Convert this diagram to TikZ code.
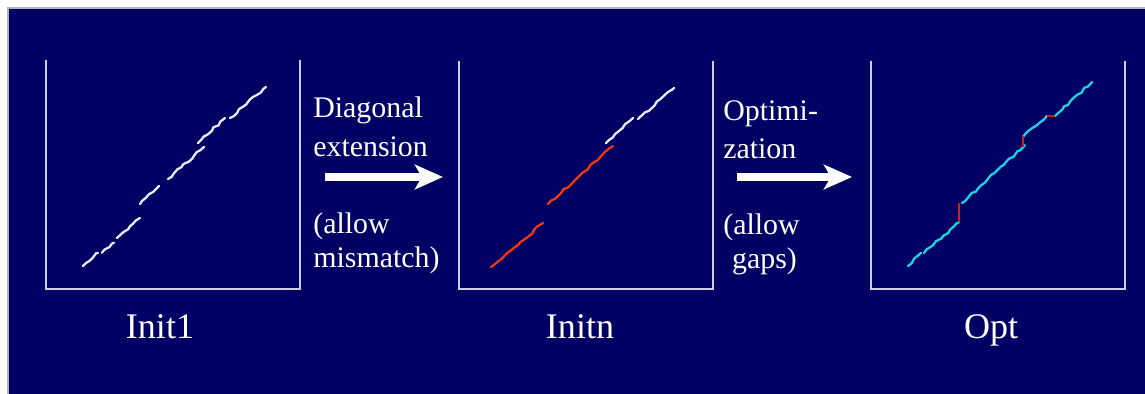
\documentclass[tikz,border=0pt]{standalone}
\usepackage{fontspec}
\setmainfont{Liberation Serif}
\usetikzlibrary{arrows.meta, positioning, decorations.pathmorphing}
\definecolor{cNavy}{RGB}{0,0,100}
\definecolor{cFrame}{RGB}{205,205,230}
\definecolor{cHit}{RGB}{235,235,245}
\definecolor{cRed}{RGB}{245,55,10}
\definecolor{cCyan}{RGB}{30,210,225}
\definecolor{cGap}{RGB}{210,30,10}
\tikzset{
	panel/.style   ={rectangle, minimum width=5.08cm, minimum height=4.56cm, inner sep=0pt},
	pframe/.style  ={draw=cFrame, line width=1.1pt},
	lbl/.style     ={text=white, anchor=base, inner sep=0pt, font=\fontsize{20.5}{24}\selectfont},
	stepnote/.style={text=white, anchor=north west, inner sep=0pt, align=left},
	bigarrow/.style={-{Stealth[length=16pt, width=14pt, inset=4pt]}, line width=4pt, draw=white},
	% dot-plot traces
	hit/.style     ={line width=1.3pt, line cap=round, decorate, decoration={random steps, segment length=2.5pt, amplitude=0.6pt}},
	gapmark/.style ={line width=1.3pt, draw=cGap},
}

\begin{document}
\begin{tikzpicture}[x=0.02cm, y=-0.02cm]
	\pgfmathsetseed{7}
	\useasboundingbox (0,0) rectangle (1145,394);
	\fill[cNavy, draw=gray!60, line width=0.6pt] (8,8) rectangle (1146,395);
	% the three dot plots
	\node[panel] (init1) at (173,174.5) {};
	\node[panel] (initn) at (586,175) {};
	\node[panel] (opt)   at (998,175) {};
	\foreach \p in {init1, initn, opt}
		\draw[pframe] (\p.north west) |- (\p.south east) -- (\p.north east);
	\node[lbl] (l1) at (160,339) {Init1};
	\node[lbl] (ln) at (580,339) {Initn};
	\node[lbl] (lo) at (991,339) {Opt};
	% seeds in Init1
	\foreach \a/\b in {{83,266}/{98,253}, {102,252.7}/{114,242.7}, {117,238}/{140,218}, {140,204}/{159,186},
			{168,179}/{204,147}, {198,143}/{225,118}, {230,118}/{266,87}}
		\draw[hit, cHit] (\a) -- (\b);
	% extended diagonals in Initn
	\foreach \a/\b in {{491,267}/{543,223}, {548,204}/{613,146}}
		\draw[hit, cRed] (\a) -- (\b);
	\foreach \a/\b in {{606,143}/{633,118}, {638,119}/{674,88}}
		\draw[hit, cHit] (\a) -- (\b);
	% optimal path in Opt
	\foreach \a/\b in {{908,266}/{921,253}, {924,253}/{959,222}, {962,203}/{1025,145},
			{1023,137}/{1047,116}, {1055,116}/{1092,82}}
		\draw[hit, cCyan] (\a) -- (\b);
	\draw[gapmark] (959,222) -- (959,203);
	\draw[gapmark] (1023,147) -- (1023,136);
	\draw[gapmark] (1047,116) -- (1055,116);
	% steps between plots
	\coordinate (a1s) at (325,177);
	\coordinate (a1e) at (443,177);
	\coordinate (a2s) at (737,177);
	\coordinate (a2e) at (852,177);
	\draw[bigarrow] (a1s) -- (a1e);
	\draw[bigarrow] (a2s) -- (a2e);
	\node[stepnote, font=\fontsize{17}{22.5}\selectfont] (ext)  at (313,96)  {Diagonal\\extension};
	\node[stepnote, font=\fontsize{17}{19.5}\selectfont] (mis)  at (313,212) {(allow\\mismatch)};
	\node[stepnote, font=\fontsize{17}{22}\selectfont]   (optz) at (723,100) {Optimi-\\zation};
	\node[stepnote, font=\fontsize{17}{19.5}\selectfont] (gaps) at (723,213) {(allow\\\hspace{5pt}gaps)};
\end{tikzpicture}
\end{document}
